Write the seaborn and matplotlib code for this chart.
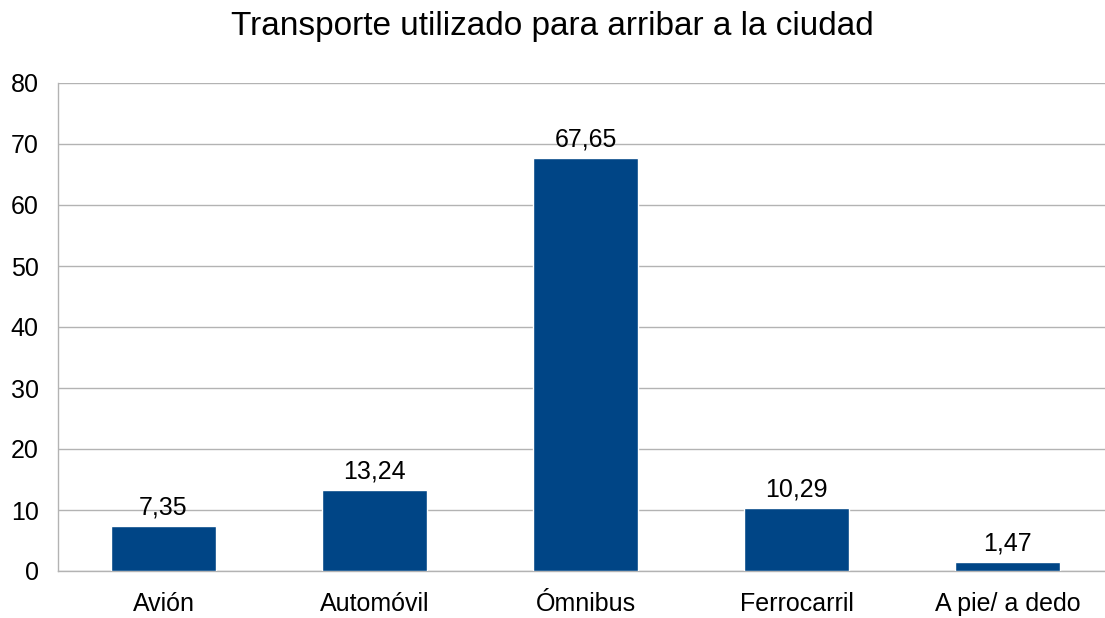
import matplotlib
matplotlib.use("Agg")
import matplotlib.pyplot as plt
import seaborn as sns
import pandas as pd

categories = ["Avión", "Automóvil", "Ómnibus", "Ferrocarril", "A pie/ a dedo"]
values = [7.35, 13.24, 67.65, 10.29, 1.47]
y_ticks = [0, 10, 20, 30, 40, 50, 60, 70, 80]
title = "Transporte utilizado para arribar a la ciudad"

bar_color = "#004586"
grid_color = "#b3b3b3"

sns.set_style("white")
plt.rcParams["font.family"] = ["Liberation Sans", "DejaVu Sans"]
plt.rcParams["text.color"] = "black"
plt.rcParams["xtick.color"] = "black"
plt.rcParams["ytick.color"] = "black"

df = pd.DataFrame({"transporte": categories, "pct": values})

fig = plt.figure(figsize=(11.05, 6.18), dpi=100)
# plot area runs slightly past the right edge, as in the original
ax = fig.add_axes([58 / 1105, 47 / 618, 1055 / 1105, 488 / 618])

sns.barplot(ax=ax, data=df, x="transporte", y="pct", color=bar_color,
            width=0.5, saturation=1, zorder=3)

ax.set_xlim(-0.5, len(categories) - 0.5)
ax.set_ylim(0, 80)
ax.set_yticks(y_ticks)
ax.yaxis.grid(True, color=grid_color, linewidth=1, zorder=0)
ax.set_axisbelow(True)

# boundary ticks between categories
ax.set_xticks([i - 0.5 for i in range(len(categories) + 1)], minor=True)
ax.tick_params(axis="x", which="minor", length=11, width=1, color=grid_color)
ax.tick_params(axis="x", which="major", length=0, pad=15, labelsize=18,
               labelcolor="black")
ax.tick_params(axis="y", length=11, width=1, color=grid_color, pad=3,
               labelsize=18, labelcolor="black")

for side in ["top", "right"]:
    ax.spines[side].set_visible(False)
for side in ["left", "bottom"]:
    ax.spines[side].set_color(grid_color)
    ax.spines[side].set_linewidth(1)

ax.set_xlabel("")
ax.set_ylabel("")

for i, v in enumerate(values):
    ax.annotate(f"{v:.2f}".replace(".", ","), (i, v), xytext=(0, 5),
                textcoords="offset points", ha="center", va="bottom",
                fontsize=18, color="black", zorder=4)

fig.text(552 / 1105, 1 - 26 / 618, title, ha="center", va="center",
         fontsize=24, color="black")

plt.savefig("out.png", dpi=100)
